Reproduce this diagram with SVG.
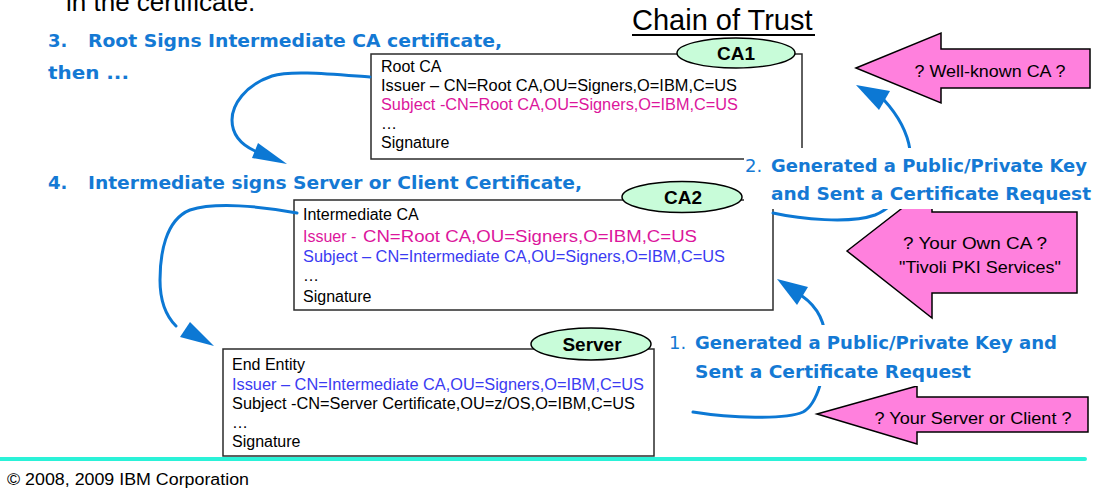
<svg xmlns="http://www.w3.org/2000/svg" width="1094" height="489" viewBox="0 0 1094 489">
  <defs>
    <style>
      .box{fill:#fff;stroke:#2b2b2b;stroke-width:1.5}
      .tag{fill:#c8fcd9;stroke:#000;stroke-width:1.5}
      .tagt{font-family:"Liberation Sans",Arial,sans-serif;font-weight:bold;font-size:19px;fill:#000;text-anchor:middle}
      .ct{font-family:"Liberation Sans",Arial,sans-serif;font-size:16px;fill:#000}
      .mag{fill:#dc169c}
      .blu{fill:#3b3bf2}
      .note{font-family:"DejaVu Sans",sans-serif;font-weight:bold;font-size:18px;fill:#1479d4}
      .num{font-weight:normal}
      .pink{fill:#ff80dd;stroke:#000;stroke-width:1.5}
      .pt{font-family:"Liberation Sans",Arial,sans-serif;font-size:17px;fill:#000;text-anchor:middle}
      .link{fill:none;stroke:#0c78d4;stroke-width:3;stroke-linecap:round}
      .head{fill:#0c78d4}
      .cover{fill:#fff}
    </style>
  </defs>
  <rect width="1094" height="489" fill="#fff"/>

  <!-- heading -->
  <g id="heading">
    <text x="66" y="11" font-family="Liberation Sans, Arial, sans-serif" font-size="26" fill="#000">in the certificate.</text>
    <text x="632" y="30" font-family="Liberation Sans, Arial, sans-serif" font-size="29" fill="#000">Chain of Trust</text>
    <line x1="632" y1="35" x2="815" y2="35" stroke="#000" stroke-width="2"/>
  </g>

  <!-- requester arrows -->
  <g id="wellknown">
    <polygon class="pink" points="856,68 941,33 941,49 1090,49 1090,88 941,88 941,103"/>
    <text class="pt" x="990" y="77" textLength="151" lengthAdjust="spacingAndGlyphs">? Well-known CA ?</text>
  </g>
  <g id="ownca">
    <polygon class="pink" points="847,251 932,185 932,212 1077,212 1077,293 932,293 932,318"/>
    <text class="pt" x="975" y="249" textLength="144" lengthAdjust="spacingAndGlyphs">? Your Own CA ?</text>
    <text class="pt" x="980" y="273" textLength="162" lengthAdjust="spacingAndGlyphs">"Tivoli PKI Services"</text>
  </g>
  <g id="client">
    <polygon class="pink" points="817,414 917,386 917,397 1088,397 1088,432 917,432 917,444"/>
    <text class="pt" x="973" y="424" textLength="197" lengthAdjust="spacingAndGlyphs">? Your Server or Client ?</text>
  </g>

  <!-- certificates -->
  <g id="ca1">
    <rect class="box" x="371" y="54" width="431" height="105"/>
    <ellipse class="tag" cx="736" cy="53" rx="59" ry="15"/>
    <text class="tagt" x="736" y="60">CA1</text>
    <text class="ct" x="381" y="72">Root CA</text>
    <text class="ct" x="381" y="91" textLength="356" lengthAdjust="spacingAndGlyphs">Issuer – CN=Root CA,OU=Signers,O=IBM,C=US</text>
    <text class="ct mag" x="381" y="110" textLength="357" lengthAdjust="spacingAndGlyphs">Subject -CN=Root CA,OU=Signers,O=IBM,C=US</text>
    <text class="ct" x="381" y="129">…</text>
    <text class="ct" x="381" y="148">Signature</text>
  </g>

  <g id="ca2">
    <rect class="box" x="294" y="200" width="479" height="110"/>
    <ellipse class="tag" cx="682" cy="197" rx="60" ry="15.5"/>
    <text class="tagt" x="683" y="204">CA2</text>
    <text class="ct" x="303" y="220">Intermediate CA</text>
    <text class="ct mag" x="303" y="242">Issuer - </text>
    <text class="ct mag" x="363" y="242" font-size="18" textLength="334" lengthAdjust="spacingAndGlyphs">CN=Root CA,OU=Signers,O=IBM,C=US</text>
    <text class="ct blu" x="303" y="262" textLength="422" lengthAdjust="spacingAndGlyphs">Subject – CN=Intermediate CA,OU=Signers,O=IBM,C=US</text>
    <text class="ct" x="303" y="281">…</text>
    <text class="ct" x="303" y="302">Signature</text>
  </g>

  <g id="server">
    <rect class="box" x="223" y="349" width="431" height="107"/>
    <ellipse class="tag" cx="591" cy="344" rx="60" ry="16"/>
    <text class="tagt" x="592" y="351">Server</text>
    <text class="ct" x="232" y="370">End Entity</text>
    <text class="ct blu" x="232" y="390" textLength="412" lengthAdjust="spacingAndGlyphs">Issuer – CN=Intermediate CA,OU=Signers,O=IBM,C=US</text>
    <text class="ct" x="232" y="409" textLength="403" lengthAdjust="spacingAndGlyphs">Subject -CN=Server Certificate,OU=z/OS,O=IBM,C=US</text>
    <text class="ct" x="232" y="428">…</text>
    <text class="ct" x="232" y="447">Signature</text>
  </g>

  <!-- signing and request flows -->
  <g id="connectors">
    <path class="link" d="M370,77 C330,74 290,70 272,76 C245,85 232,105 232,120 C232,135 242,145 255,151"/>
    <polygon class="head" points="287,164 252,158 258,143"/>
    <path class="link" d="M297,213 C260,206 215,202 190,210 C165,220 160,255 160,280 C160,300 165,315 176,326"/>
    <polygon class="head" points="214,346 180,337 190,322"/>
    <path class="link" d="M773,213 C800,219 850,224 875,215 C900,205 913,175 910,150 C907,130 895,112 884,100"/>
    <polygon class="head" points="856,85 890,91 879,110"/>
    <path class="link" d="M693,412 C730,418 785,420 803,412 C818,404 826,370 826,345 C826,320 815,305 802,296"/>
    <polygon class="head" points="777,279 808,287 797,305"/>
  </g>

  <!-- step notes -->
  <g id="note3">
    <text class="note" x="48" y="47">3.</text>
    <text class="note" x="88" y="47" textLength="414" lengthAdjust="spacingAndGlyphs">Root Signs Intermediate CA certificate,</text>
    <text class="note" x="48" y="79" textLength="81" lengthAdjust="spacingAndGlyphs">then ...</text>
  </g>
  <g id="note4">
    <text class="note" x="48" y="189">4.</text>
    <text class="note" x="88" y="189" textLength="494" lengthAdjust="spacingAndGlyphs">Intermediate signs Server or Client Certificate,</text>
  </g>
  <g id="note2">
    <rect class="cover" x="744" y="148" width="350" height="61"/>
    <text class="note num" x="745" y="172">2.</text>
    <text class="note" x="771" y="172" textLength="316" lengthAdjust="spacingAndGlyphs">Generated a Public/Private Key</text>
    <text class="note" x="771" y="200" textLength="320" lengthAdjust="spacingAndGlyphs">and Sent a Certificate Request</text>
  </g>
  <g id="note1">
    <rect class="cover" x="666" y="325" width="396" height="61"/>
    <text class="note num" x="669" y="349">1.</text>
    <text class="note" x="695" y="349" textLength="362" lengthAdjust="spacingAndGlyphs">Generated a Public/Private Key and</text>
    <text class="note" x="695" y="378" textLength="276" lengthAdjust="spacingAndGlyphs">Sent a Certificate Request</text>
  </g>

  <!-- footer -->
  <g id="footer">
    <line x1="0" y1="459" x2="1085" y2="459" stroke="#2af2d8" stroke-width="4" stroke-linecap="round"/>
    <text x="7" y="485" font-family="Liberation Sans, Arial, sans-serif" font-size="16" fill="#000" textLength="242" lengthAdjust="spacingAndGlyphs">© 2008, 2009 IBM Corporation</text>
  </g>
</svg>
